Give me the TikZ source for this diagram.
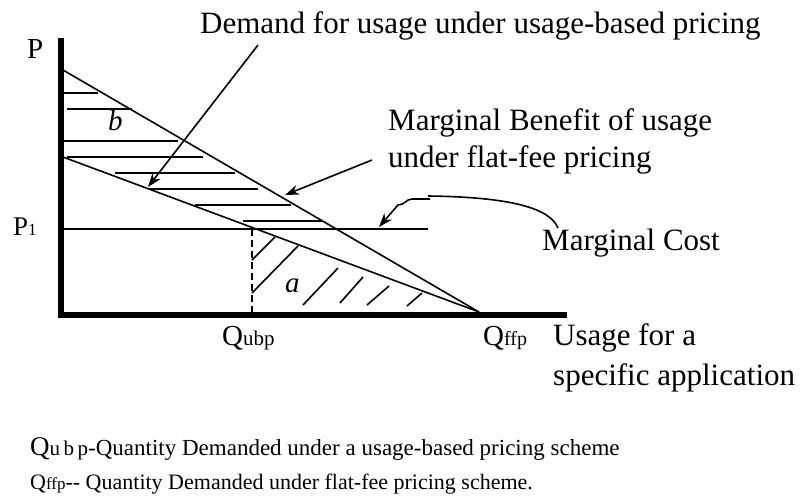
\documentclass[tikz,border=0pt]{standalone}
\usepackage{fontspec}
\setmainfont{Liberation Serif}
\usetikzlibrary{arrows.meta}
\begin{document}
\begin{tikzpicture}[x=1pt,y=-1pt,
  thinline/.style={line width=1.6pt},
  axis/.style={line width=6pt},
  hatch/.style={line width=1.6pt},
  lbl/.style={anchor=base west, inner sep=0pt, font=\fontsize{31}{34}\selectfont},
  axlbl/.style={anchor=base west, inner sep=0pt, font=\fontsize{29}{32}\selectfont},
  note/.style={anchor=base west, inner sep=0pt, font=\fontsize{22}{26}\selectfont},
  pointer/.style={line width=1.6pt, -{Stealth[length=14pt,width=10pt]}},
]
\useasboundingbox (0,0) rectangle (801,499);

% axes
\coordinate (ytop) at (61,38);
\coordinate (ybot) at (61,318);
\coordinate (xleft) at (58,315);
\coordinate (xright) at (567,315);
\draw[axis] (ytop) -- (ybot);
\draw[axis] (xleft) -- (xright);

% demand and marginal benefit lines
\coordinate (mbTop) at (63,70);
\coordinate (dTop) at (63,157);
\coordinate (qffp) at (479,312);
\draw[thinline] (mbTop) -- (qffp);
\draw[thinline] (dTop) -- (qffp);

% price level P1 and Qubp
\coordinate (p1L) at (62,229);
\coordinate (p1R) at (428,229);
\draw[thinline] (p1L) -- (p1R);
\coordinate (qubpTop) at (252,229);
\coordinate (qubpBot) at (252,313);
\draw[thinline, dash pattern=on 7pt off 4pt] (qubpTop) -- (qubpBot);

% horizontal hatching of area b
\foreach \y/\xa/\xb in {93/63/98, 109/67/132, 141/63/178, 157/67/203,
                        173/115/235, 189/150/258, 205/195/291, 221/243/322}
  \draw[hatch] (\xa,\y) -- (\xb,\y);

% diagonal hatching of area a
\foreach \xa/\ya/\xb/\yb in {252/260/275/237, 252/293/298/246, 303/305/338/268,
                             340/303/363/277, 367/305/389/286, 407/306/422/293}
  \draw[hatch] (\xa,\ya) -- (\xb,\yb);

% area labels
\node[axlbl, font=\fontsize{29}{32}\selectfont\itshape] (b) at (108,130) {b};
\node[axlbl, font=\fontsize{29}{32}\selectfont\itshape] (a) at (285,292) {a};

% axis labels
\node[axlbl] (P) at (27,58) {P};
\node[axlbl, font=\fontsize{27}{30}\selectfont] (P1) at (13,235) {P{\fontsize{17}{20}\selectfont 1}};
\node[axlbl] (Qubp) at (222,345) {Q{\fontsize{21}{24}\selectfont ubp}};
\node[axlbl] (Qffp) at (483,345) {Q{\fontsize{20}{24}\selectfont ffp}};
\node[lbl] (usage1) at (553,345) {Usage for a};
\node[lbl] (usage2) at (553,385) {specific application};

% curve labels
\node[lbl] (demand) at (200,33) {Demand for usage under usage-based pricing};
\node[lbl] (mb1) at (388,130) {Marginal Benefit of usage};
\node[lbl] (mb2) at (388,167) {under flat-fee pricing};
\node[lbl] (mc) at (542,250) {Marginal Cost};

% pointers
\coordinate (demStart) at (258,45);
\coordinate (demTip) at (148,187);
\draw[pointer] (demStart) -- (demTip);
\coordinate (mbStart) at (372,160);
\coordinate (mbTip) at (285,195);
\draw[pointer] (mbStart) -- (mbTip);
\coordinate (mcStart) at (430,199);
\coordinate (mcTip) at (379,227);
\draw[pointer] (mcStart) -- (412,199) .. controls (406,199) and (405,205) .. (398,205) -- (mcTip);
\coordinate (mcCurveA) at (428,196);
\coordinate (mcCurveB) at (558,228);
\draw[thinline] (mcCurveA) .. controls (510,197) and (550,208) .. (mcCurveB);

% legend
\node[note, font=\fontsize{23}{26}\selectfont] (leg1) at (30,455) {{\fontsize{27}{28}\selectfont Q}{\fontsize{21}{22}\selectfont u\,b\,p}-Quantity Demanded under a usage-based pricing scheme};
\node[note] (leg2) at (30,489) {Q{\fontsize{17}{20}\selectfont ffp}-{}- Quantity Demanded under flat-fee pricing scheme.};
\end{tikzpicture}
\end{document}
